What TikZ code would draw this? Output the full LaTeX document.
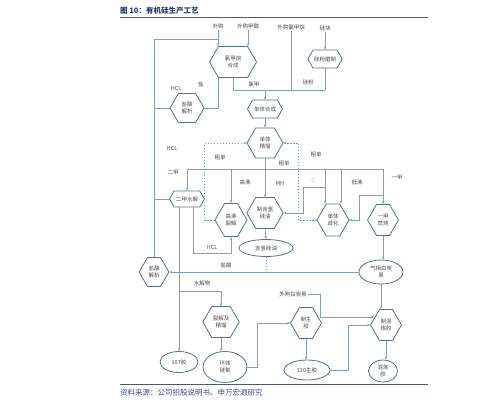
\documentclass[tikz,border=0pt]{standalone}
\usepackage{fontspec}
\setmainfont{Noto Sans CJK SC}
\usetikzlibrary{shapes.symbols, shapes.geometric, calc, arrows.meta}

\definecolor{hexline}{HTML}{56708F}
\definecolor{conn}{HTML}{7F9DBF}
\definecolor{titleblue}{HTML}{2A3866}
\definecolor{footblue}{HTML}{3C4798}
\definecolor{rulegray}{HTML}{4F5670}
\definecolor{lbl}{HTML}{4A4A4A}

\begin{document}
\begin{tikzpicture}[x=1pt, y=-1pt,
		>={Stealth[length=3pt, width=2.6pt]},
		h/.style = {signal, signal to=east and west, signal pointer angle=120, draw=hexline, fill=white, line width=0.8pt, inner sep=1pt, align=center, font=\fontsize{5.5}{6.5}\selectfont, text=lbl},
		o/.style = {ellipse, draw=hexline, fill=white, line width=0.8pt, inner sep=0pt, align=center, font=\fontsize{5.5}{6.5}\selectfont, text=lbl},
		t/.style = {inner sep=1pt, font=\fontsize{5.5}{6.5}\selectfont, text=lbl},
		r/.style = {->, draw=conn, line width=0.7pt},
		p/.style = {draw=conn, line width=0.7pt},
		d/.style = {draw=conn, line width=0.7pt, dash pattern=on 1.5pt off 1.5pt}
		]
		
		\useasboundingbox (0, 0) rectangle (499, 405);
		
		% === === Title === ===
		\node[anchor=west, inner sep=0pt, text=titleblue, font=\fontsize{7.5}{9}\selectfont\bfseries]	(title)	at	(120, 11)	{图 10：有机硅生产工艺};
		\draw[rulegray, line width=0.9pt]	(120, 17.5)	--	(428, 17.5);
		\draw[rulegray, line width=0.9pt]	(120, 384)	--	(428, 384);
		\node[anchor=west, inner sep=0pt, text=footblue, font=\fontsize{7.5}{9}\selectfont]	(foot)	at	(120, 393)	{资料来源：公司招股说明书、申万宏源研究};
		
		% === === Nodes === ===
		\node[t]	(wg1)	at	(218, 26)	{外购};
		\node[t]	(wg2)	at	(248, 26)	{外购甲醇};
		\node[t]	(wg3)	at	(291, 27)	{外购氯甲烷};
		\node[t]	(gk)	at	(325, 28)	{硅块};
		
		\node[h, minimum width=47, minimum height=31]	(cms)	at	(233, 62)	{氯甲烷\\合成};
		\node[h, minimum width=34, minimum height=18]	(sig)	at	(325, 59)	{硅粉磨制};
		\node[h, minimum width=34, minimum height=29]	(hcla)	at	(187, 108)	{盐酸\\解析};
		\node[h, minimum width=35, minimum height=18]	(dts)	at	(265, 109)	{单体合成};
		\node[h, minimum width=36, minimum height=30]	(djl)	at	(265, 143)	{单体\\精馏};
		\node[h, minimum width=35, minimum height=16]	(ejs)	at	(187, 199)	{二甲水解};
		\node[h, minimum width=29, minimum height=33]	(gfl)	at	(231, 220)	{高沸\\裂解};
		\node[h, minimum width=36, minimum height=31]	(hqy)	at	(265, 213)	{制含氢\\硅油};
		\node[h, minimum width=32, minimum height=32]	(dqh)	at	(333, 220)	{单体\\歧化};
		\node[h, minimum width=30, minimum height=31]	(yjf)	at	(383, 220)	{一甲\\焚烧};
		\node[o, minimum width=54, minimum height=17]	(hq)	at	(266, 248)	{含氢硅油};
		\node[o, minimum width=44, minimum height=24]	(qx)	at	(381, 272)	{气相白炭\\黑};
		\node[h, minimum width=29, minimum height=29]	(hclb)	at	(154, 272)	{盐酸\\解析};
		\node[h, minimum width=29, minimum height=31]	(ljj)	at	(221, 322)	{裂解及\\精馏};
		\node[o, minimum width=38, minimum height=21]	(g107)	at	(179, 362)	{107胶};
		\node[o, minimum width=44, minimum height=31]	(htg)	at	(225, 367)	{环体\\硅氧};
		\node[h, minimum width=29, minimum height=31]	(zsj)	at	(306, 323)	{制生\\胶};
		\node[o, minimum width=46, minimum height=20]	(sj110)	at	(307, 370)	{110生胶};
		\node[h, minimum width=29, minimum height=31]	(zhl)	at	(386, 325)	{制混\\炼胶};
		\node[o, minimum width=29, minimum height=22]	(hlj)	at	(383, 371)	{混炼\\胶};
		\node[t]	(wbt)	at	(293, 294)	{外购白炭黑};
		
		\coordinate	(hcltop)	at	(218, 39);
		\coordinate	(bus)		at	(265, 90);
		\coordinate	(sp)		at	(265, 169);
		\coordinate	(df)		at	(383, 195);
		\coordinate	(sj)		at	(325, 187);
		\coordinate	(sjw)		at	(179, 291);
		
		% === === Labels === ===
		\node[t]	(l-hcl1)	at	(176, 88)	{HCL};
		\node[t]	(l-yan)		at	(201, 84)	{盐};
		\node[t]	(l-lj)		at	(254, 84)	{氯甲};
		\node[t]	(l-gf)		at	(308, 82)	{硅粉};
		\node[t]	(l-hcl2)	at	(172, 148)	{HCL};
		\node[t]	(l-cd1)		at	(220, 157)	{粗单};
		\node[t]	(l-cd2)		at	(284, 163)	{粗单};
		\node[t]	(l-cd3)		at	(316, 154)	{粗单};
		\node[t]	(l-ej)		at	(173, 173)	{二甲};
		\node[t]	(l-gfei)	at	(245, 182)	{高沸};
		\node[t]	(l-mh)		at	(280, 183)	{MH};
		\node[t, text=red!35]	(l-san)	at	(313, 180)	{三};
		\node[t]	(l-df)		at	(357, 182)	{低沸};
		\node[t]	(l-yj)		at	(397, 178)	{一甲};
		\node[t]	(l-hcl3)	at	(212, 247)	{HCL};
		\node[t]	(l-ys)		at	(226, 265)	{盐酸};
		\node[t]	(l-sjw)		at	(202, 283)	{水解物};
		
		% === === Lines === ===
		\draw[r]	(wg1.south)		to	(wg1.south |- cms.north);
		\draw[r]	(wg2.south)		to	(wg2.south |- cms.north);
		\draw[p]	(hclb.north)	|-	(hcltop);
		\draw[p]	(hcla.west)		--	(hcla.west -| hclb.north);
		\draw[p]	(hcla.east)		-|	(wg1.south |- cms.south);
		\draw[p]	(cms.south)		|-	(sig.south |- bus);
		\draw[p]	(sig.south)		--	(sig.south |- bus);
		\draw[p]	(wg3.south)		--	(wg3.south |- bus);
		\draw[r]	(gk.south)		--	(sig.north);
		\draw[r]	(bus)			--	(dts.north);
		\draw[r]	(dts.south)		--	(djl.north);
		\draw[r]	(djl.south)		--	(hqy.north);
		
		\draw[r]	(sp)	-|	(ejs.north);
		\draw[r]	(sp)	-|	(gfl.north);
		\draw[r]	(sp)	-|	($(dqh.north)+(-8, 0)$);
		\draw[r]	(sp)	-|	($(dqh.north)+(8, 0)$);
		\draw[r]	(sp)	-|	(yjf.north);
		\draw[r]	(df)	-|	($(dqh.east)+(10, 0)$)	--	(dqh.east);
		\draw[r]	(sj)	-|	($(hqy.east)+(20, 0)$)	--	(hqy.east);
		
		\draw[d, ->]	(gfl.west)	--	++(-10, 0)	|-	(djl.west);
		\draw[d, ->]	(dqh.west)	--	++(-18, 0)	|-	(djl.east);
		
		\draw[p]	(ejs.west)	--	(ejs.west -| hclb.north);
		\draw[r]	($(ejs.south)+(6, 0)$)	--	++(0, 46)	-|	(gfl.south);
		\draw[r]	($(ejs.south)+(-8, 0)$)	--	(g107.north);
		\draw[r]	(sjw)	-|	(ljj.north);
		\draw[r]	(hqy.south)	--	(hq.north);
		\draw[d]	(hq.south)	--	(hq.south |- qx.west);
		\draw[r]	(qx.west)	--	(hclb.east);
		\draw[r]	(yjf.south)	--	(yjf.south |- qx.north);
		\draw[r]	(qx.south)	--	(qx.south |- zhl.north);
		\draw[r]	(ljj.south)	--	(ljj.south |- htg.north);
		\draw[r]	(htg.east)	--	++(10, 0)	|-	(zsj.west);
		\draw[r]	(zsj.south)	--	(zsj.south |- sj110.north);
		\draw[r]	(sj110.east)	--	++(18, 0)	|-	(zhl.west);
		\draw[r]	(wbt.east)	--	++(12, 0)	|-	($(zhl.west)+(4, -8)$);
		\draw[r]	(zhl.south)	--	(zhl.south |- hlj.north);
		
	\end{tikzpicture}
\end{document}
